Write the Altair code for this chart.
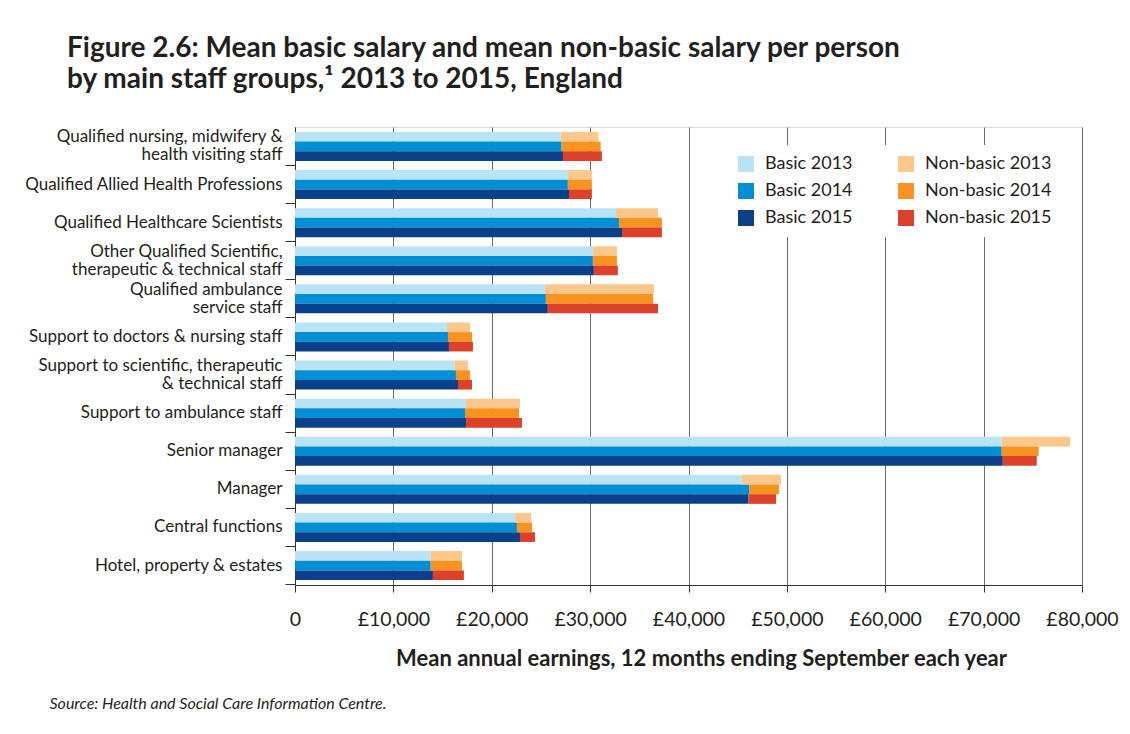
import altair as alt
import pandas as pd

categories = [
    "Qualified nursing, midwifery &\nhealth visiting staff",
    "Qualified Allied Health Professions",
    "Qualified Healthcare Scientists",
    "Other Qualified Scientific,\ntherapeutic & technical staff",
    "Qualified ambulance\nservice staff",
    "Support to doctors & nursing staff",
    "Support to scientific, therapeutic\n& technical staff",
    "Support to ambulance staff",
    "Senior manager",
    "Manager",
    "Central functions",
    "Hotel, property & estates",
]
years = ["2013", "2014", "2015"]

basic_2013 = [27000, 27740, 32620, 30280, 25400, 15450, 16230, 17380, 71840, 45400, 22360, 13790]
basic_2014 = [27100, 27740, 32930, 30280, 25500, 15550, 16360, 17280, 71840, 46200, 22560, 13790]
basic_2015 = [27240, 27850, 33240, 30380, 25700, 15650, 16570, 17380, 71950, 46100, 22870, 14020]
nonbasic_2013 = [3860, 2440, 4280, 2440, 11100, 2350, 1350, 5490, 6960, 4000, 1640, 3180]
nonbasic_2014 = [3970, 2440, 4370, 2440, 10900, 2440, 1420, 5490, 3760, 3000, 1540, 3180]
nonbasic_2015 = [3960, 2330, 4060, 2440, 11200, 2440, 1420, 5690, 3450, 2800, 1530, 3150]

series_domain = ["Basic 2013", "Basic 2014", "Basic 2015",
                 "Non-basic 2013", "Non-basic 2014", "Non-basic 2015"]
series_colors = ["#b9e4f8", "#008fd5", "#0a3f8a", "#fbc78a", "#f7931e", "#dd4129"]
x_ticks = [0, 10000, 20000, 30000, 40000, 50000, 60000, 70000, 80000]

basic = {"2013": basic_2013, "2014": basic_2014, "2015": basic_2015}
nonbasic = {"2013": nonbasic_2013, "2014": nonbasic_2014, "2015": nonbasic_2015}

rows = []
for i, cat in enumerate(categories):
    for yr in years:
        b = basic[yr][i]
        n = nonbasic[yr][i]
        rows.append(dict(category=cat, year=yr, series=f"Basic {yr}", start=0, end=b, part="basic"))
        rows.append(dict(category=cat, year=yr, series=f"Non-basic {yr}", start=b, end=b + n, part="nonbasic"))
df = pd.DataFrame(rows)

TXT = "#231f20"
FONT = "Lato"

xaxis = alt.Axis(
    values=x_ticks, labelOverlap=False, labelFlush=False,
    labelExpr="datum.value == 0 ? '0' : '£' + format(datum.value, ',')",
    grid=True, gridColor="#6a6a6a", gridWidth=1,
    tickSize=7, tickColor="#333333", domainColor="#333333",
    labelFontSize=19.5, labelPadding=18, labelColor=TXT, labelFont=FONT,
    title="Mean annual earnings, 12 months ending September each year",
    titleFontSize=22, titleFontWeight="bold", titlePadding=20, titleColor=TXT,
    titleFont=FONT, titleX=406,
)

legend = alt.Legend(
    title=None, orient="none", legendX=432, legendY=18, columns=2,
    fillColor="white", padding=10, labelFontSize=18, labelFont=FONT, labelColor=TXT,
    symbolType="square", symbolSize=256, symbolStrokeWidth=0, labelOffset=10,
    columnPadding=44, rowPadding=9, labelLimit=300,
)

color = alt.Color("series:N", scale=alt.Scale(domain=series_domain, range=series_colors),
                  legend=legend)
yscale = alt.Scale(domain=categories, paddingInner=0.239, paddingOuter=0.13)
yoff = alt.YOffset("year:N", sort=years, scale=alt.Scale(paddingInner=0, paddingOuter=0))
x = alt.X("start:Q", scale=alt.Scale(domain=[0, 80000], nice=False), axis=xaxis)
x2 = alt.X2("end:Q")

tick_axis = alt.Axis(
    orient="left", labels=False, ticks=True, tickSize=10, tickColor="#333333",
    domain=True, domainColor="#333333", bandPosition=1.155,
    title="Source: Health and Social Care Information Centre.",
    titleAngle=0, titleX=-246, titleY=581, titleAlign="left", titleBaseline="alphabetic",
    titleFontStyle="italic", titleFontWeight="normal", titleFontSize=16,
    titleColor=TXT, titleFont=FONT,
)
label_axis = alt.Axis(
    orient="left", ticks=False, domain=False, labels=True,
    labelExpr="split(datum.label, '\\n')", labelFontSize=17, labelLineHeight=18,
    labelOffset={"condition": {"test": "indexof(datum.label, '\\n') >= 0", "value": -9},
                 "value": 0},
    labelFont=FONT, labelColor=TXT, labelPadding=13, labelLimit=400,
    labelAlign="right", labelBaseline="middle", title=None,
)

base = alt.Chart(df)
basic_layer = base.transform_filter("datum.part == 'basic'").mark_bar().encode(
    x=x, x2=x2,
    y=alt.Y("category:N", sort=categories, scale=yscale, axis=tick_axis),
    yOffset=yoff, color=color,
)
nonbasic_layer = base.transform_filter("datum.part == 'nonbasic'").mark_bar().encode(
    x=x, x2=x2,
    y=alt.Y("category:N", sort=categories, scale=yscale, axis=label_axis),
    yOffset=yoff, color=color,
)

chart = alt.layer(basic_layer, nonbasic_layer).resolve_scale(y="shared").resolve_axis(
    y="independent"
).properties(
    width=787, height=458,
    autosize=alt.AutoSizeParams(type="none"),
    padding={"left": 287, "top": 119, "right": 39, "bottom": 136},
    title=alt.TitleParams(
        text=["Figure 2.6: Mean basic salary and mean non-basic salary per person",
              "by main staff groups,\u00b9 2013 to 2015, England"],
        anchor="start", frame="group", dx=-228, fontSize=28, lineHeight=31,
        font=FONT, fontWeight="bold", color=TXT, offset=33,
    ),
).configure_view(stroke="#333333", strokeWidth=1).configure(font=FONT)

chart.save("out.html", embed_options={"renderer": "svg", "actions": False})
